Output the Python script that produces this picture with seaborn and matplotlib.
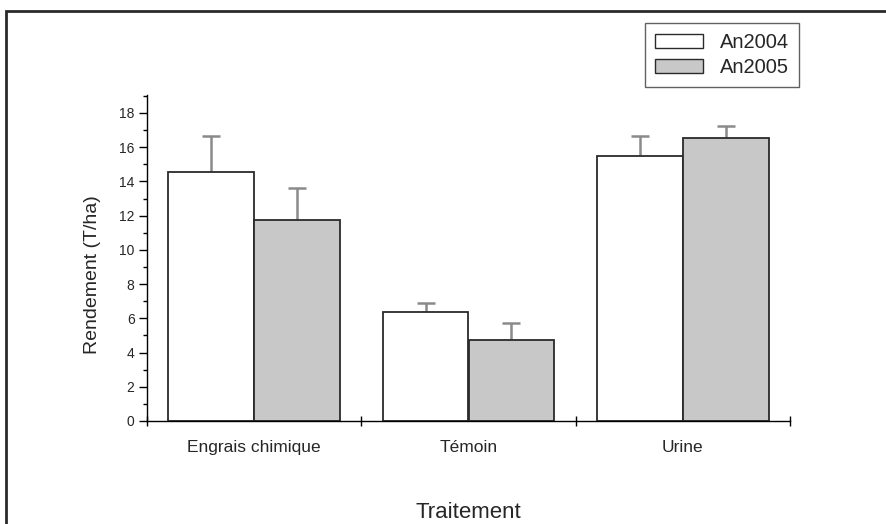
import numpy as np
import pandas as pd
import matplotlib
matplotlib.use("Agg")
import matplotlib.pyplot as plt
import seaborn as sns
from matplotlib.patches import Rectangle, Patch
from matplotlib.ticker import MultipleLocator

categories = ["Engrais chimique", "Témoin", "Urine"]
years = ["An2004", "An2005"]
mean_2004 = [14.55, 6.35, 15.5]
mean_2005 = [11.75, 4.73, 16.52]
err_2004 = [2.1, 0.55, 1.15]
err_2005 = [1.85, 1.0, 0.7]

df = pd.DataFrame({
    "Traitement": categories * 2,
    "Annee": [years[0]] * 3 + [years[1]] * 3,
    "Rendement": mean_2004 + mean_2005,
})

sns.set_theme(style="white")
plt.rcParams["font.family"] = ["Liberation Sans", "DejaVu Sans"]

fig = plt.figure(figsize=(8.86, 5.24), dpi=100)
ax = fig.add_axes([147 / 886, 1 - 421 / 524, (790 - 147) / 886, (421 - 95) / 524])

colors = ["#ffffff", "#c8c8c8"]
sns.barplot(data=df, x="Traitement", y="Rendement", hue="Annee",
            order=categories, hue_order=years, palette=colors,
            edgecolor="#2a2a2a", linewidth=1.3, width=0.8, gap=0,
            errorbar=None, legend=False, ax=ax, saturation=1)

errs = [err_2004, err_2005]
for cont, e in zip(ax.containers, errs):
    xs = [b.get_x() + b.get_width() / 2 for b in cont]
    hs = [b.get_height() for b in cont]
    eb = ax.errorbar(xs, hs, yerr=[np.zeros(len(e)), e], fmt="none",
                     ecolor="#8a8a8a", elinewidth=1.8, capsize=6.2,
                     capthick=1.8, zorder=0.5)
    caps = eb[1]
    if len(caps) == 2:
        caps[0].remove()

ax.set_xlim(-0.5, 2.5)
ax.set_ylim(0, 19.05)
ax.yaxis.set_major_locator(MultipleLocator(2))
ax.yaxis.set_minor_locator(MultipleLocator(1))
ax.tick_params(axis="y", which="major", direction="out", length=6, width=1,
               color="black", labelsize=10, pad=3, left=True)
ax.tick_params(axis="y", which="minor", direction="out", length=3, width=1,
               color="black", left=True)

ax.set_xticks([-0.5, 0.5, 1.5, 2.5])
ax.set_xticklabels([])
ax.set_xticks([0, 1, 2], minor=True)
ax.set_xticklabels(categories, minor=True)
ax.tick_params(axis="x", which="major", direction="inout", length=7, width=1,
               color="black", bottom=True)
ax.tick_params(axis="x", which="minor", length=0, labelsize=12.5, pad=14)

for s in ["top", "right"]:
    ax.spines[s].set_visible(False)
for s in ["left", "bottom"]:
    ax.spines[s].set_color("black")
    ax.spines[s].set_linewidth(1)

ax.set_ylabel("Rendement (T/ha)", fontsize=14)
ax.yaxis.set_label_coords(-0.0855, 0.448)
ax.yaxis.label.set_va("center")
ax.set_xlabel("Traitement", fontsize=16)
ax.xaxis.set_label_coords(0.5, -0.282)
ax.xaxis.label.set_va("center")

handles = [Patch(facecolor=c, edgecolor="#2a2a2a", linewidth=1) for c in colors]
leg = fig.legend(handles, years, loc="upper left",
                 bbox_to_anchor=(645 / 886, 1 - 23 / 524), borderaxespad=0,
                 fontsize=14.5, frameon=True, fancybox=False, handlelength=2.4,
                 handleheight=0.7, handletextpad=0.8, borderpad=0.5,
                 labelspacing=0.3)
leg.get_frame().set_edgecolor("#3a3a3a")
leg.get_frame().set_linewidth(1)

fig.patches.append(Rectangle((5.5 / 886, -0.1), 2, 1 - 11 / 524 + 0.1,
                             transform=fig.transFigure, fill=False,
                             linewidth=2, edgecolor="#2a2a2a"))

fig.savefig("out.png", dpi=100)
